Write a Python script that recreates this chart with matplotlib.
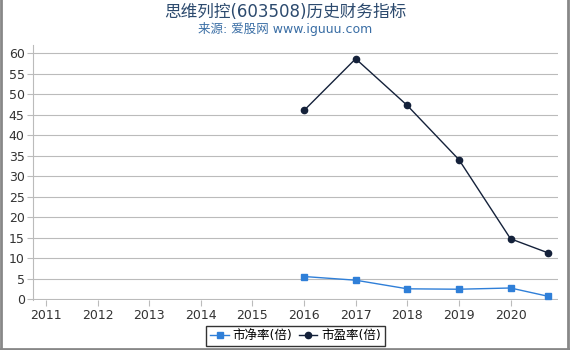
import matplotlib
matplotlib.use('Agg')
import matplotlib.pyplot as plt

plt.rcParams['font.family'] = ['DejaVu Sans', 'Noto Sans CJK SC']

years = [2011, 2012, 2013, 2014, 2015, 2016, 2017, 2018, 2019, 2020]
x_pts = [2016, 2017, 2018, 2019, 2020, 2020.72]
pb = [5.5, 4.6, 2.5, 2.4, 2.7, 0.7]
pe = [46.0, 58.6, 47.2, 34.0, 14.7, 11.3]

fig = plt.figure(figsize=(5.7, 3.5), dpi=100)
ax = fig.add_axes([0.058, 0.142, 0.921, 0.73])

ax.plot(x_pts, pb, color='#2f7fd8', marker='s', markersize=4.5, linewidth=1, label='市净率(倍)')
ax.plot(x_pts, pe, color='#14213a', marker='o', markersize=4.5, linewidth=1, label='市盈率(倍)')

ax.set_xlim(2010.75, 2020.92)
ax.set_ylim(-0.3, 62)
ax.set_yticks(range(0, 61, 5))
ax.set_xticks(years)
ax.set_xticklabels([str(y) for y in years])
ax.grid(axis='y', color='#bbbbbb', linewidth=0.8)
ax.set_axisbelow(True)
for s in ['top', 'right', 'bottom']:
    ax.spines[s].set_visible(False)
ax.spines['left'].set_color('#bbbbbb')
ax.tick_params(axis='y', length=4, color='#bbbbbb', labelsize=9, labelcolor='#333333', pad=2)
ax.tick_params(axis='x', length=4, color='#bbbbbb', labelsize=9, labelcolor='#333333', pad=2)

fig.text(0.5, 0.967, '思维列控(603508)历史财务指标', ha='center', va='center', fontsize=12, color='#2c4a6e')
fig.text(0.5, 0.917, '来源: 爱股网 www.iguuu.com', ha='center', va='center', fontsize=9, color='#3a6ea5')

leg = ax.legend(loc='upper center', bbox_to_anchor=(0.5, -0.075), ncol=2, fontsize=9,
                frameon=True, fancybox=False, edgecolor='black', handlelength=1.5,
                handletextpad=0.3, columnspacing=0.5, borderpad=0.3)
leg.get_frame().set_linewidth(1)

fig.add_artist(plt.Line2D([0.002, 0.002], [0, 1], color='#888888', linewidth=2, transform=fig.transFigure))
fig.add_artist(plt.Line2D([0.996, 0.996], [0, 1], color='#888888', linewidth=2, transform=fig.transFigure))
fig.add_artist(plt.Line2D([0, 1], [0.004, 0.004], color='#888888', linewidth=2, transform=fig.transFigure))

fig.savefig('out.png', dpi=100)
